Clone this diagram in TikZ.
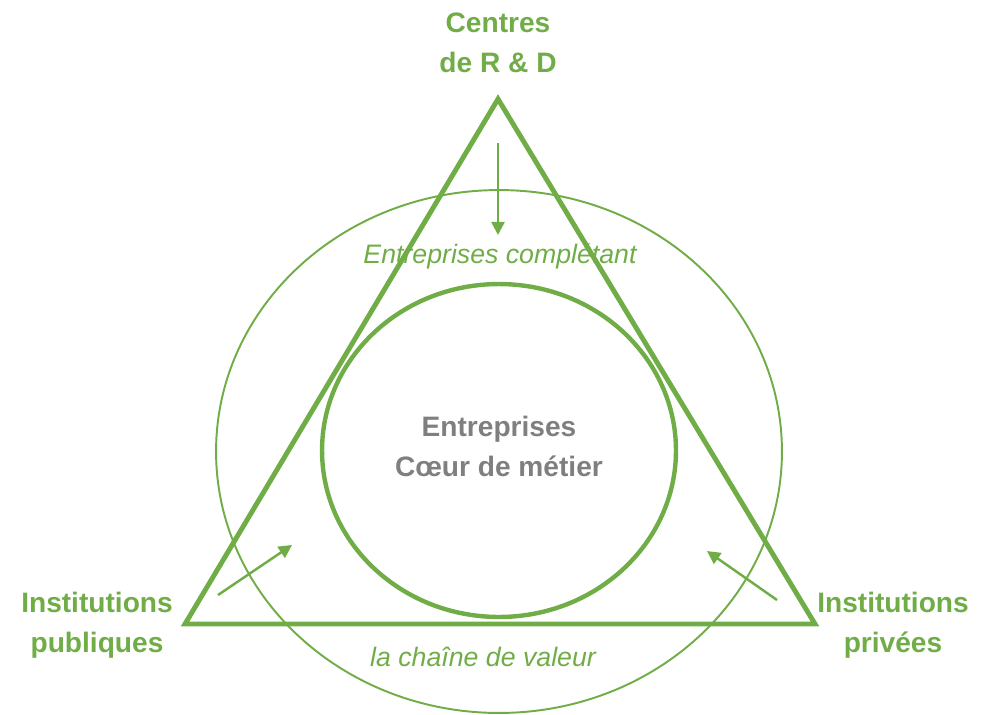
\documentclass[tikz,border=0pt]{standalone}
\usepackage{fontspec}
\setmainfont{Liberation Sans}
\usetikzlibrary{arrows.meta, shapes.geometric}
\definecolor{leaf}{HTML}{70AD47}
\definecolor{stone}{HTML}{7F7F7F}

\begin{document}
\begin{tikzpicture}[x=0.02cm, y=-0.02cm,
  corner/.style={text=leaf, font=\fontsize{16}{22.8}\selectfont\bfseries, align=center},
  ring/.style={ellipse, draw=leaf, inner sep=0pt},
  flow/.style={-{Triangle[length=7.5pt,width=7.5pt]}, draw=leaf, line width=1.4pt},
  note/.style={text=leaf, font=\fontsize{15.2}{17}\selectfont\itshape, anchor=base}]
  \useasboundingbox (0,0) rectangle (989,714);

  % Rings
  \node[ring, line width=1.1pt, minimum width=11.32cm, minimum height=10.46cm] (outer) at (499,451.5) {};
  \node[ring, line width=2.5pt, minimum width=7.08cm, minimum height=6.66cm] (inner) at (499,450.5) {};

  % Labels
  \node[corner] (rd) at (498,42.5) {Centres\\de R \& D};
  \node[corner] (pub) at (97,625) {Institutions\\publiques};
  \node[corner] (priv) at (893,625) {Institutions\\privées};
  \node[corner, text=stone] (core) at (499,446) {Entreprises\\Cœur de métier};
  \node[note] (compl) at (500,263) {Entreprises complétant};
  \node[note] (chain) at (483,666) {la chaîne de valeur};

  % Triangle
  \coordinate (top) at (498,99);
  \coordinate (left) at (185,624);
  \coordinate (right) at (815,624);
  \draw[leaf, line width=2.8pt, line join=miter] (top) -- (left) -- (right) -- cycle;

  % Arrows
  \coordinate (a1) at (498,143); \coordinate (b1) at (498,235);
  \coordinate (a2) at (218,595); \coordinate (b2) at (292,545);
  \coordinate (a3) at (777,600); \coordinate (b3) at (707,551);
  \foreach \i in {1,2,3} {
    \draw[flow] (a\i) -- (b\i);
  }
\end{tikzpicture}
\end{document}
